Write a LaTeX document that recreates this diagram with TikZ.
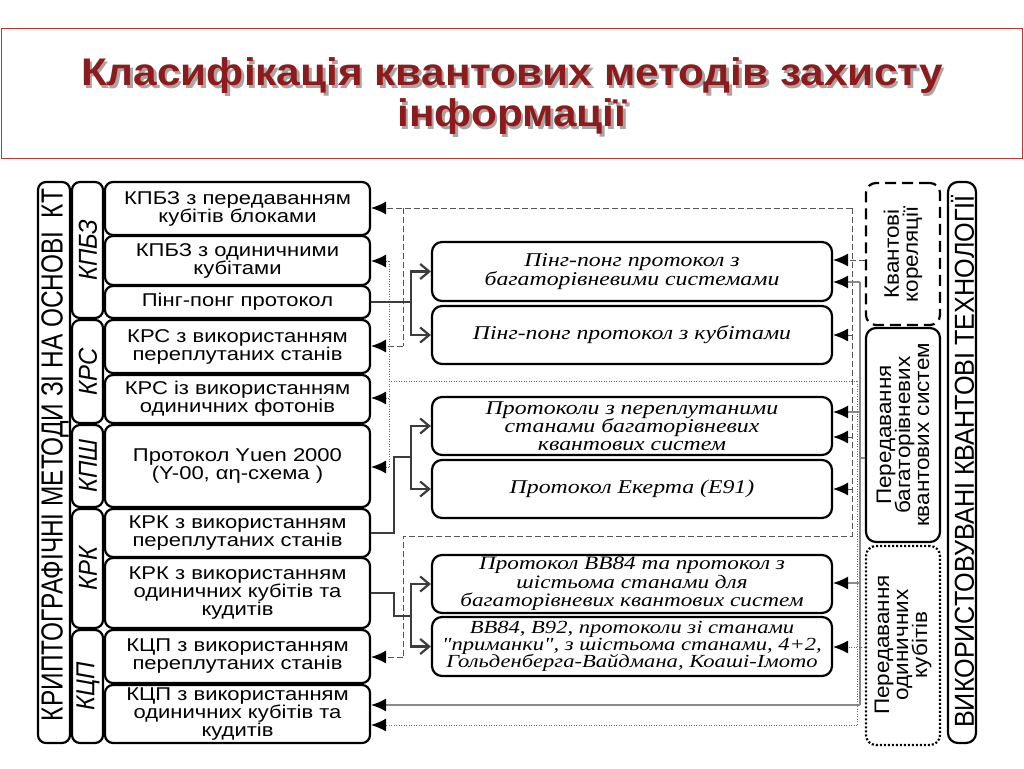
\documentclass[tikz,border=0pt]{standalone}
\usepackage{fontspec}
\setmainfont{Liberation Sans}
\newfontfamily\lsf{Liberation Sans}[FakeStretch=1.19]
\newfontfamily\msf{Liberation Serif}[FakeStretch=1.22]
\newfontfamily\tf{Liberation Sans}[FakeStretch=1.1]
\newfontfamily\rfa{Liberation Sans}[FakeStretch=0.8]
\newfontfamily\rfb{Liberation Sans}[FakeStretch=0.92]
\newfontfamily\rfc{Liberation Sans}[FakeStretch=1.07]
\usetikzlibrary{arrows.meta}
\definecolor{titlered}{HTML}{8E1B1B}
\definecolor{titleborder}{HTML}{B03A3A}
\definecolor{lconncol}{HTML}{3C3C3C}
\definecolor{dshcol}{HTML}{555555}
\definecolor{solcol}{HTML}{8A8A8A}
\definecolor{dotcol}{HTML}{6A6A6A}
\newcommand\bx[7]{\node[#6, minimum width={(#4-#2)*1pt}, minimum height={(#5-#3)*1pt}] (#1) at ({(#2+#4)/2},{(#3+#5)/2}) {#7};}
\begin{document}
\begin{tikzpicture}[x=1pt,y=-1pt,
  lbox/.style={draw=black, line width=2.2pt, rounded corners=8pt, fill=white, inner sep=0pt, align=center,
    font={\lsf\fontsize{18.5}{18}\selectfont\lineskiplimit=-30pt}},
  mbox/.style={draw=black, line width=2.2pt, rounded corners=10pt, fill=white, inner sep=0pt, align=center,
    font={\msf\itshape\fontsize{19.5}{19.5}\selectfont\lineskiplimit=-30pt}},
  cbox/.style={draw=black, line width=2.2pt, rounded corners=8pt, fill=white, inner sep=0pt},
  rbox/.style={draw=black, line width=2.2pt, rounded corners=10pt, fill=white, inner sep=0pt},
  ttl/.style={inner sep=0pt, font={\tf\bfseries\fontsize{38.5}{40}\selectfont}},
  rtxt/.style={rotate=90, inner sep=0pt, align=center},
  lconn/.style={draw=lconncol, line width=2.2pt},
  ltip/.style={-{Straight Barb[length=9pt,width=15pt]}},
  rtip/.style={-{Latex[length=15pt,width=13pt,color=black]}},
  dsh/.style={draw=dshcol, line width=1pt, dash pattern=on 6pt off 3pt},
  sol/.style={draw=solcol, line width=1.3pt},
  dot/.style={draw=dotcol, line width=1pt, dash pattern=on 1pt off 1.5pt}
]
\useasboundingbox (0,0) rectangle (1024,768);
\fill[white] (0,0) rectangle (1024,768);

% title
\bx{tbox}{1}{29}{1022}{158}{draw=titleborder, line width=1pt}{}
\node[ttl, text=black!35] (t1s) at (514.5,78.5) {Класифікація квантових методів захисту};
\node[ttl, text=titlered] (t1) at (512,76) {Класифікація квантових методів захисту};
\node[ttl, text=black!35] (t2s) at (514.5,119.5) {інформації};
\node[ttl, text=titlered] (t2) at (512,117) {інформації};

% coordinates for connector lanes
\coordinate (c260) at (0,260);
\coordinate (dA) at (852,208);
\coordinate (dB) at (852,536);
\coordinate (dC) at (403,208);
\coordinate (dD) at (403,346);
\coordinate (dE) at (403,536);
\coordinate (dF) at (403,657);
\coordinate (dM2) at (852,335);
\coordinate (dM3) at (852,437);
\coordinate (dM4) at (852,489);
\coordinate (sA) at (860,282);
\coordinate (sB) at (860,705);
\coordinate (sR) at (860,458);
\coordinate (sM3) at (860,412);
\coordinate (sM5) at (860,583);
\coordinate (pA) at (857,381);
\coordinate (pB) at (857,725);
\coordinate (pC) at (389,381);
\coordinate (pD) at (389,261);
\coordinate (pE) at (389,467);
\coordinate (pF) at (389,398);
\coordinate (p647) at (0,647);
\coordinate (jA) at (411,302);
\coordinate (kA) at (394,533);
\coordinate (kB) at (394,457);
\coordinate (kC) at (411,457);
\coordinate (qA) at (394,593);
\coordinate (qB) at (394,616);
\coordinate (qC) at (411,616);

% left column
\bx{col1}{38}{182}{70}{743}{cbox}{}
\node[rtxt, font={\rfa\fontsize{30.5}{30}\selectfont}] (col1t) at (55,455) {КРИПТОГРАФІЧНІ МЕТОДИ ЗІ НА ОСНОВІ\ \ КТ};
\bx{g1}{72}{182}{103}{318}{cbox}{}
\bx{g2}{72}{320}{103}{423}{cbox}{}
\bx{g3}{72}{425}{103}{507}{cbox}{}
\bx{g4}{72}{509}{103}{628}{cbox}{}
\bx{g5}{72}{630}{103}{743}{cbox}{}
\node[rtxt, font={\rfb\itshape\fontsize{26}{26}\selectfont}] (g1t) at (88,250) {КПБЗ};
\node[rtxt, font={\rfb\itshape\fontsize{26}{26}\selectfont}] (g2t) at (88,371.5) {КРС};
\node[rtxt, font={\rfb\itshape\fontsize{26}{26}\selectfont}] (g3t) at (88,466) {КПШ};
\node[rtxt, font={\rfb\itshape\fontsize{26}{26}\selectfont}] (g4t) at (88,568.5) {КРК};
\node[rtxt, font={\rfb\itshape\fontsize{26}{26}\selectfont}] (g5t) at (88,686.5) {КЦП};

% right columns
\bx{R1}{866}{183}{940}{325}{rbox, dash pattern=on 11pt off 6pt}{}
\bx{R2}{866}{328}{940}{542}{rbox}{}
\bx{R3}{866}{546}{940}{745}{rbox, dash pattern=on 2pt off 2pt}{}
\bx{R4}{948}{182}{976}{743}{rbox}{}
\node[rtxt, font={\rfc\fontsize{21}{19}\selectfont\lineskiplimit=-30pt}] (R1t) at (903,254) {Квантові\\кореляції};
\node[rtxt, font={\rfc\fontsize{21}{19}\selectfont\lineskiplimit=-30pt}] (R2t) at (903,435) {Передавання\\багаторівневих\\квантових систем};
\node[rtxt, font={\rfc\fontsize{21}{19}\selectfont\lineskiplimit=-30pt}] (R3t) at (903,645) {Передавання\\одиничних\\кубітів};
\node[rtxt, font={\rfb\fontsize{27.4}{27}\selectfont}] (R4t) at (962.5,461.5) {ВИКОРИСТОВУВАНІ КВАНТОВІ ТЕХНОЛОГІЇ};

% left boxes
\bx{L1}{105}{182}{370}{235}{lbox}{КПБЗ з передаванням\\кубітів блоками}
\bx{L2}{105}{236}{370}{285}{lbox}{КПБЗ з одиничними\\кубітами}
\bx{L3}{105}{286}{370}{318}{lbox}{Пінг-понг протокол}
\bx{L4}{105}{320}{370}{373}{lbox}{КРС з використанням\\переплутаних станів}
\bx{L5}{105}{375}{370}{423}{lbox}{КРС із використанням\\одиничних фотонів}
\bx{L6}{105}{425}{370}{507}{lbox}{Протокол Υuen 2000\\(Υ-00, αη-схема )}
\bx{L7}{105}{509}{370}{557}{lbox}{КРК з використанням\\переплутаних станів}
\bx{L8}{105}{558}{370}{628}{lbox}{КРК з використанням\\одиничних кубітів та\\кудитів}
\bx{L9}{105}{630}{370}{683}{lbox}{КЦП з використанням\\переплутаних станів}
\bx{L10}{105}{685}{370}{743}{lbox}{КЦП з використанням\\одиничних кубітів та\\кудитів}

% middle boxes
\bx{M1}{432}{242}{832}{301}{mbox}{Пінг-понг протокол з\\багаторівневими системами}
\bx{M2}{432}{306}{832}{364}{mbox}{Пінг-понг протокол з кубітами}
\bx{M3}{432}{397}{832}{455}{mbox, font={\msf\itshape\fontsize{19.5}{18}\selectfont\lineskiplimit=-30pt}}{Протоколи з переплутаними\\станами багаторівневих\\квантових систем}
\bx{M4}{432}{460}{832}{518}{mbox}{Протокол Екерта (E91)}
\bx{M5}{432}{555}{832}{613}{mbox, font={\msf\itshape\fontsize{19}{18.5}\selectfont\lineskiplimit=-30pt}}{Протокол BB84 та протокол з\\шістьома станами для\\багаторівневих квантових систем}
\bx{M6}{432}{617}{832}{676}{mbox, font={\msf\itshape\fontsize{18.5}{16.8}\selectfont\lineskiplimit=-30pt}}{BB84, B92, протоколи зі станами\\"приманки", з шістьома станами, 4+2,\\Гольденберга-Вайдмана, Коаші-Імото}

% connectors: dashed
\draw[dsh] (dA) -- (dB) -- (dE) -- (dF);
\draw[dsh] (dC) -- (dD);
\draw[dsh,rtip] (dA) -- (L1.east |- dA);
\draw[dsh,rtip] (dD) -- (L4.east |- dD);
\draw[dsh,rtip] (dF) -- (L9.east |- dF);
\draw[dsh,rtip] (R1.west |- c260) -- (M1.east |- c260);
\draw[dsh,rtip] (dM2) -- (M2.east |- dM2);
\draw[dsh,rtip] (dM3) -- (M3.east |- dM3);
\draw[dsh,rtip] (dM4) -- (M4.east |- dM4);
% solid gray
\draw[sol] (R2.west |- sR) -- (sR);
\draw[sol] (sA) -- (sB);
\draw[sol,rtip] (sA) -- (M1.east |- sA);
\draw[sol,rtip] (sM3) -- (M3.east |- sM3);
\draw[sol,rtip] (sM5) -- (M5.east |- sM5);
\draw[sol,rtip] (sB) -- (L10.east |- sB);
% dotted
\draw[dot] (pA) -- (pB);
\draw[dot] (pA) -- (pC);
\draw[dot] (pD) -- (pE);
\draw[dot,rtip] (pD) -- (L2.east |- pD);
\draw[dot,rtip] (pF) -- (L5.east |- pF);
\draw[dot,rtip] (pE) -- (L6.east |- pE);
\draw[dot,rtip] (pB) -- (L10.east |- pB);
\draw[dot,rtip] (R3.west |- p647) -- (M6.east |- p647);
% left solid connectors
\draw[lconn] (L3.east) -- (jA);
\draw[lconn,ltip] (jA) |- (M1.west);
\draw[lconn,ltip] (jA) |- (M2.west);
\draw[lconn] (L7.east |- kA) -- (kA) -- (kB) -- (kC);
\draw[lconn,ltip] (kC) |- (M3.west);
\draw[lconn,ltip] (kC) |- (M4.west);
\draw[lconn] (L8.east |- qA) -- (qA) -- (qB) -- (qC);
\draw[lconn,ltip] (qC) |- (M5.west);
\draw[lconn,ltip] (qC) |- (M6.west);
\end{tikzpicture}
\end{document}
